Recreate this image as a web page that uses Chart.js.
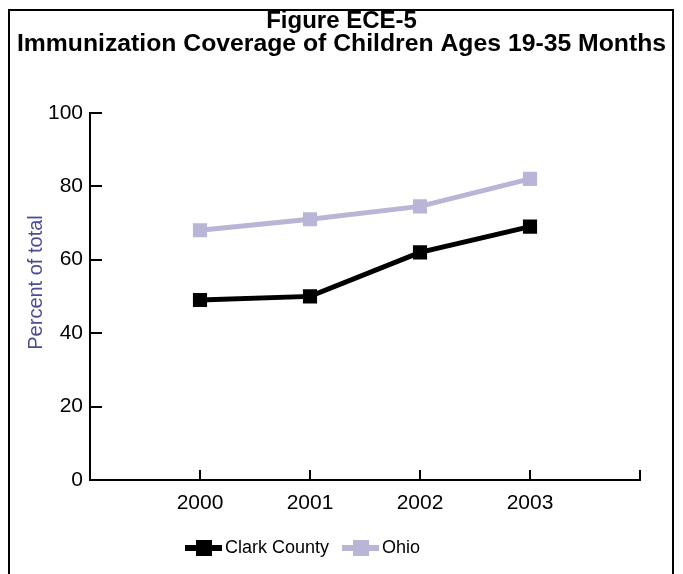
<!DOCTYPE html>
<html>
<head>
<meta charset="utf-8">
<script src="https://cdn.jsdelivr.net/npm/chart.js@4"></script>
<style>
  body { margin: 0; background: #fff; overflow: hidden; }
  #frame {
    position: absolute; left: 8px; top: 9px; width: 662px; height: 600px;
    border: 2px solid #000;
  }
  #ece-plot { position: absolute; left: 0; top: 0; }
</style>
</head>
<body>
<div id="frame"></div>
<canvas id="ece-plot" width="683" height="574"></canvas>
<script>
var years = [2000, 2001, 2002, 2003];
var clarkCounty = [49, 50, 62, 69];
var ohio = [68, 71, 74.5, 82];
var seriesNames = ["Clark County", "Ohio"];
var seriesColors = ["#000000", "#b8b5d6"];

Chart.defaults.font.family = '"Liberation Sans", Arial, sans-serif';
Chart.defaults.color = "#000";

function toPoints(values) {
  return years.map((yr, i) => ({ x: yr, y: values[i] }));
}

// legend is drawn by hand: line + square marker like the original
const legendMarks = {
  id: "legendMarks",
  afterDraw(chart) {
    const ctx = chart.ctx;
    let x = 185;
    const y = 548;
    ctx.save();
    ctx.font = '18px "Liberation Sans", Arial, sans-serif';
    ctx.textBaseline = "middle";
    chart.data.datasets.forEach(ds => {
      ctx.strokeStyle = ds.borderColor;
      ctx.lineWidth = 6;
      ctx.beginPath();
      ctx.moveTo(x, y);
      ctx.lineTo(x + 37, y);
      ctx.stroke();
      ctx.fillStyle = ds.borderColor;
      ctx.fillRect(x + 11, y - 8, 16, 16);
      ctx.fillStyle = "#000";
      ctx.fillText(ds.label, x + 40, y);
      x += 40 + ctx.measureText(ds.label).width + 13;
    });
    ctx.restore();
  }
};

new Chart("ece-plot", {
  type: "line",
  data: {
    datasets: [{
      label: seriesNames[0],
      data: toPoints(clarkCounty),
      borderColor: seriesColors[0],
      backgroundColor: seriesColors[0],
      pointBackgroundColor: seriesColors[0],
      borderWidth: 5,
      pointStyle: "rect",
      pointRadius: 10,
      pointBorderWidth: 0,
      tension: 0
    }, {
      label: seriesNames[1],
      data: toPoints(ohio),
      borderColor: seriesColors[1],
      backgroundColor: seriesColors[1],
      pointBackgroundColor: seriesColors[1],
      borderWidth: 5,
      pointStyle: "rect",
      pointRadius: 10,
      pointBorderWidth: 0,
      tension: 0
    }]
  },
  options: {
    responsive: false,
    animation: false,
    layout: { padding: 0 },
    plugins: {
      legend: { display: false },
      tooltip: { enabled: false },
      title: {
        display: true,
        text: "Figure ECE-5",
        color: "#000",
        font: { size: 24, weight: "bold", lineHeight: 0.75 },
        padding: { top: 12, bottom: 0 }
      },
      subtitle: {
        display: true,
        text: "Immunization Coverage of Children Ages 19-35 Months",
        color: "#000",
        font: { size: 24.75, weight: "bold", lineHeight: 1 },
        padding: { top: 2, bottom: 56 }
      }
    },
    scales: {
      x: {
        type: "linear",
        min: 1999,
        max: 2004,
        afterFit: (scale) => { scale.height = 94; },
        grid: {
          drawOnChartArea: false,
          color: "#000",
          lineWidth: 2,
          tickLength: -10
        },
        border: { color: "#000", width: 2 },
        ticks: {
          stepSize: 1,
          padding: 21,
          font: { size: 21 },
          callback: (v) => years.includes(v) ? String(v) : ""
        }
      },
      y: {
        min: 0,
        max: 100,
        afterFit: (scale) => { scale.width = 90; },
        grid: {
          drawOnChartArea: false,
          color: "#000",
          lineWidth: 2,
          tickLength: -12
        },
        border: { color: "#000", width: 2 },
        ticks: {
          stepSize: 20,
          padding: 19,
          font: { size: 21 }
        },
        title: {
          display: true,
          text: "     Percent of total",
          color: "#4b4b96",
          font: { size: 20 },
          padding: { top: 24, bottom: 0 }
        }
      },
      // empty right-hand spacer so the plot stops short of the frame
      yRight: {
        position: "right",
        min: 0,
        max: 100,
        afterFit: (scale) => { scale.width = 43; },
        grid: { display: false },
        border: { display: false },
        ticks: { display: false }
      }
    }
  },
  plugins: [legendMarks]
});
</script>
</body>
</html>
